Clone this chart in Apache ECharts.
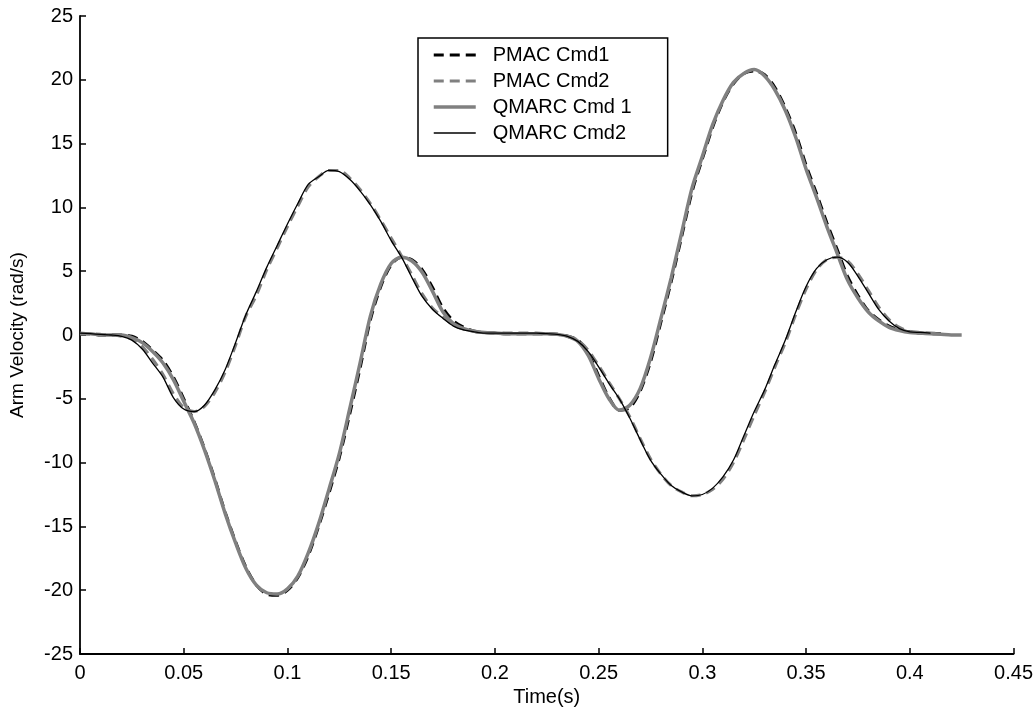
<!DOCTYPE html>
<html>
<head>
<meta charset="utf-8">
<script src="https://cdn.jsdelivr.net/npm/echarts@6/dist/echarts.min.js"></script>
<style>html,body{margin:0;padding:0;background:#fff;}#chart{width:1036px;height:717px;}</style>
</head>
<body>
<div id="chart"></div>
<script>
// time grid (s)
const time = [0.000,0.005,0.010,0.015,0.020,0.025,0.030,0.035,0.040,0.045,
0.050,0.055,0.060,0.065,0.070,0.075,0.080,0.085,0.090,0.095,
0.100,0.105,0.110,0.115,0.120,0.125,0.130,0.135,0.140,0.145,
0.150,0.155,0.160,0.165,0.170,0.175,0.180,0.185,0.190,0.195,
0.200,0.205,0.210,0.215,0.220,0.225,0.230,0.235,0.240,0.245,
0.250,0.255,0.260,0.265,0.270,0.275,0.280,0.285,0.290,0.295,
0.300,0.305,0.310,0.315,0.320,0.325,0.330,0.335,0.340,0.345,
0.350,0.355,0.360,0.365,0.370,0.375,0.380,0.385,0.390,0.395,
0.400,0.405,0.410,0.415,0.420,0.425];

const pmacCmd1 = [0.1,0.1,0.0,0.0,0.0,-0.1,-0.5,-1.2,-2.0,-3.3,
-5.0,-6.8,-8.9,-11.3,-13.9,-16.2,-18.2,-19.6,-20.3,-20.4,
-20.0,-19.0,-17.3,-15.0,-12.4,-9.6,-6.2,-2.6,1.2,3.8,
5.5,6.1,5.9,5.1,3.7,2.1,1.1,0.6,0.3,0.2,
0.15,0.1,0.1,0.1,0.1,0.1,0.05,-0.1,-0.4,-1.4,
-3.2,-4.9,-5.9,-5.7,-4.4,-2.1,1.0,4.2,7.7,11.2,
13.8,16.3,18.3,19.7,20.5,20.7,20.4,19.4,17.8,15.8,
13.3,11.1,8.8,6.7,4.6,3.1,1.9,1.2,0.7,0.4,
0.25,0.15,0.1,0.1];

const pmacCmd2 = [0.15,0.1,0.05,0.0,-0.1,-0.3,-0.9,-1.9,-3.1,-4.6,
-5.7,-6.0,-5.6,-4.5,-2.9,-0.8,1.5,3.1,5.1,6.8,
8.5,10.1,11.6,12.4,12.9,12.9,12.3,11.4,10.3,9.0,
7.6,6.2,4.7,3.2,2.1,1.4,0.8,0.45,0.3,0.2,
0.15,0.15,0.15,0.15,0.15,0.1,0.05,-0.1,-0.4,-1.2,
-2.4,-3.7,-5.0,-6.4,-8.1,-9.7,-10.9,-11.8,-12.3,-12.6,
-12.5,-12.1,-11.3,-10.0,-8.2,-6.3,-4.5,-2.5,-0.6,1.6,
3.6,5.1,5.9,6.1,5.8,4.8,3.5,2.2,1.2,0.6,
0.3,0.2,0.15,0.1];

const qmarcCmd1 = [0.1,0.1,0.0,0.0,0.0,-0.2,-0.6,-1.3,-2.2,-3.5,
-5.2,-6.9,-9.0,-11.4,-14.0,-16.3,-18.3,-19.6,-20.2,-20.3,
-19.9,-18.9,-17.1,-14.8,-12.1,-9.3,-5.8,-2.2,1.5,4.0,
5.6,6.1,5.8,4.9,3.4,1.8,0.9,0.5,0.3,0.2,
0.15,0.1,0.1,0.1,0.1,0.1,0.05,-0.1,-0.5,-1.6,
-3.4,-5.0,-5.9,-5.5,-4.2,-1.8,1.3,4.5,8.0,11.5,
14.0,16.5,18.4,19.8,20.5,20.8,20.3,19.2,17.6,15.5,
13.0,10.8,8.5,6.4,4.3,2.9,1.8,1.1,0.6,0.35,
0.2,0.15,0.1,0.05,0.0,0.0];

const qmarcCmd2 = [0.15,0.1,0.05,0.0,-0.1,-0.4,-1.1,-2.2,-3.3,-4.9,
-5.8,-6.0,-5.5,-4.3,-2.7,-0.6,1.6,3.4,5.3,7.0,
8.7,10.3,11.8,12.4,12.9,12.8,12.2,11.3,10.2,8.9,
7.4,6.1,4.5,3.0,2.0,1.3,0.7,0.4,0.25,0.15,
0.15,0.15,0.15,0.15,0.15,0.1,0.05,-0.1,-0.5,-1.3,
-2.5,-3.8,-5.0,-6.5,-8.2,-9.8,-10.9,-11.8,-12.3,-12.6,
-12.5,-12.0,-11.1,-9.8,-7.9,-6.0,-4.3,-2.3,-0.4,1.8,
3.8,5.2,5.9,6.1,5.7,4.6,3.3,2.0,1.1,0.5,
0.25,0.2,0.15];

const xTicks = [0,0.05,0.1,0.15,0.2,0.25,0.3,0.35,0.4,0.45];
const yTicks = [-25,-20,-15,-10,-5,0,5,10,15,20,25];
const seriesNames = ['PMAC Cmd1','PMAC Cmd2','QMARC Cmd 1','QMARC Cmd2'];

function pairs(vals){ return vals.map((v,i)=>[time[i], v]); }

const FONT = "'Liberation Sans', Arial, sans-serif";
const FS = 20;
const chart = echarts.init(document.getElementById('chart'), null, {renderer:'canvas'});

const styles = [
  {color:'#000000', width:3, type:[10,6]},
  {color:'#808080', width:3, type:[10,6]},
  {color:'#808080', width:3.5, type:'solid'},
  {color:'#000000', width:1.3, type:'solid'}
];
const datas = [pmacCmd1, pmacCmd2, qmarcCmd1, qmarcCmd2];

chart.setOption({
  animation:false,
  backgroundColor:'#ffffff',
  textStyle:{fontFamily:FONT},
  grid:{left:80, right:19, top:16, bottom:63, containLabel:false},
  legend:{
    left:418, top:38, orient:'vertical',
    data:seriesNames.map((n,k)=>({name:n,
      lineStyle:{color:styles[k].color, width:Math.max(styles[k].width,1.6), type:styles[k].type}})),
    itemWidth:42, itemHeight:14, itemGap:4,
    padding:[6,36,12,14],
    borderColor:'#000', borderWidth:1.5, backgroundColor:'#fff',
    itemStyle:{opacity:0},
    textStyle:{fontFamily:FONT, fontSize:FS, color:'#000', lineHeight:22, padding:[0,0,0,12]}
  },
  xAxis:{
    type:'value', min:0, max:0.45, interval:0.05,
    name:'Time(s)', nameLocation:'middle', nameGap:33,
    nameTextStyle:{fontFamily:FONT, fontSize:FS, color:'#000'},
    axisLine:{show:true, onZero:false, lineStyle:{color:'#000', width:1.8}},
    axisTick:{show:true, inside:true, length:6, lineStyle:{color:'#000', width:1.5}},
    axisLabel:{fontFamily:FONT, fontSize:FS, color:'#000', margin:9,
      formatter:v=>String(parseFloat(v.toFixed(2)))},
    splitLine:{show:false}
  },
  yAxis:{
    type:'value', min:-25, max:25, interval:5,
    name:'Arm Velocity (rad/s)', nameLocation:'middle', nameGap:53, nameRotate:90,
    nameTextStyle:{fontFamily:FONT, fontSize:FS-1, color:'#000'},
    axisLine:{show:true, onZero:false, lineStyle:{color:'#000', width:1.8}},
    axisTick:{show:true, inside:true, length:6, lineStyle:{color:'#000', width:1.5}},
    axisLabel:{fontFamily:FONT, fontSize:FS, color:'#000', margin:7},
    splitLine:{show:false}
  },
  series: seriesNames.map((n,k)=>({
    name:n, type:'line', data:pairs(datas[k]), showSymbol:false, symbol:'none',
    smooth:0.3, z:2+k,
    lineStyle:{color:styles[k].color, width:styles[k].width, type:styles[k].type},
    itemStyle:{color:styles[k].color}
  }))
});
</script>
</body>
</html>
